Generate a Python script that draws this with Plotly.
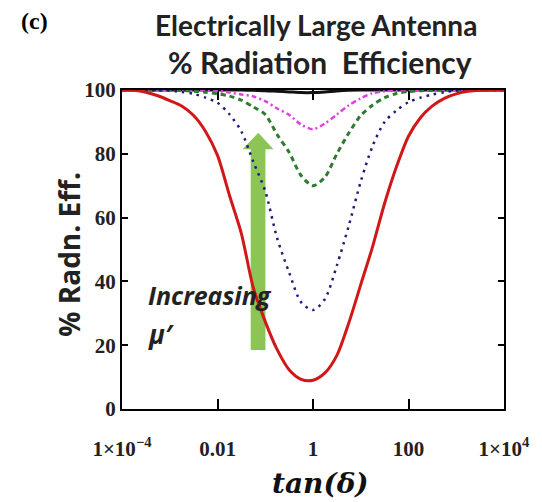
import plotly.graph_objects as go

# Sample positions along the loss-tangent axis, as powers of ten
log_tan_delta = [-4.0, -3.75, -3.5, -3.25, -3.0, -2.75, -2.5, -2.25, -2.0, -1.75, -1.5,
                 -1.25, -1.0, -0.75, -0.5, -0.25, 0.0, 0.25, 0.5, 0.75, 1.0, 1.25,
                 1.5, 1.75, 2.0, 2.25, 2.5, 2.75, 3.0, 3.25, 3.5, 3.75, 4.0]

# Radiation efficiency (%) for increasing mu'
eff_mu1 = [100, 99.9, 99.3, 98.2, 96.7, 95.0, 92.0, 87.0, 79.5, 67.0, 55.0,
           38.0, 27.4, 18.6, 12.3, 9.3, 9.0, 11.3, 16.8, 27.0, 39.0, 51.0,
           64.5, 76.0, 85.5, 91.3, 95.0, 97.4, 98.8, 99.6, 99.9, 100, 100]
eff_mu2 = [100, 100, 100, 99.9, 99.8, 99.4, 98.8, 97.6, 96.0, 92.4, 87.0,
           77.5, 68.3, 53.5, 42.8, 33.5, 31.0, 34.5, 45.0, 57.5, 71.3, 82.5,
           90.0, 93.6, 96.2, 97.6, 98.6, 99.3, 99.8, 100, 100, 100, 100]
eff_mu3 = [100, 100, 100, 100, 100, 99.9, 99.6, 99.3, 98.8, 98.1, 96.8,
           94.7, 92.3, 86.0, 80.5, 73.2, 70.0, 72.7, 80.0, 86.5, 92.0, 95.3,
           97.6, 98.9, 99.5, 99.8, 99.9, 100, 100, 100, 100, 100, 100]
eff_mu4 = [100, 100, 100, 100, 100, 100, 100, 99.9, 99.7, 99.2, 98.6,
           98.0, 96.5, 94.2, 92.2, 89.2, 87.7, 89.5, 92.3, 95.2, 97.4, 99.0,
           99.6, 99.9, 100, 100, 100, 100, 100, 100, 100, 100, 100]
eff_mu5 = [100, 100, 100, 100, 100, 100, 100, 100, 100, 100, 100,
           99.9, 99.8, 99.6, 99.4, 99.2, 99.2, 99.4, 99.7, 99.9, 100, 100,
           100, 100, 100, 100, 100, 100, 100, 100, 100, 100, 100]

# Axis ticks
x_tick_vals = [1e-4, 1e-2, 1, 1e2, 1e4]
x_tick_text = ["1×10<sup>−4</sup>", "0.01", "1", "100", "1×10<sup>4</sup>"]
y_tick_vals = [0, 20, 40, 60, 80, 100]

# Arrow outline (tan delta, % efficiency)
arrow_x = [0.0496, 0.1009, 0.1009, 0.149, 0.0714, 0.0335, 0.0496, 0.0496]
arrow_y = [18.5, 18.5, 81.4, 81.4, 86.6, 81.4, 81.4, 18.5]

tan_delta = [10 ** v for v in log_tan_delta]

series = [
    (eff_mu5, "#111111", "solid", 3),
    (eff_mu4, "#e040e0", "5px,3px,2px,3px", 2.5),
    (eff_mu3, "#2e7a32", "5px,4px", 3),
    (eff_mu2, "#1c1c7a", "2.5px,5px", 2.5),
    (eff_mu1, "#d01818", "solid", 3),
]

fig = go.Figure()

fig.add_trace(go.Scatter(
    x=arrow_x, y=arrow_y, mode="lines", fill="toself",
    fillcolor="#8cc456", line=dict(width=0, color="#8cc456"),
    hoverinfo="skip", showlegend=False,
))

for vals, color, dash, width in series:
    fig.add_trace(go.Scatter(
        x=tan_delta, y=vals, mode="lines",
        line=dict(color=color, dash=dash, width=width, shape="spline", smoothing=0.8),
        showlegend=False,
    ))

axis_common = dict(
    showline=True, linecolor="black", linewidth=2, mirror="ticks",
    ticks="inside", tickcolor="black", showgrid=False, zeroline=False,
    layer="below traces",
)
tick_font = dict(family="Liberation Serif", size=21, color="#222", weight="bold")

fig.update_xaxes(
    type="log", range=[-4, 4], tickvals=x_tick_vals, ticktext=x_tick_text,
    ticklen=10, tickwidth=2, ticklabelstandoff=20, tickfont=tick_font,
    **axis_common,
)
fig.update_yaxes(
    range=[0, 100], tickvals=y_tick_vals, ticklen=6, tickwidth=2,
    tickfont=tick_font, **axis_common,
)


def label(text, x, y, font, **kw):
    return dict(text=text, x=x, y=y, xref="paper", yref="paper",
                xanchor=kw.pop("xanchor", "center"), yanchor="middle",
                showarrow=False, font=font, **kw)


fig.update_layout(
    width=542, height=502,
    margin=dict(l=122, r=31, t=90, b=93),
    paper_bgcolor="white", plot_bgcolor="white",
    annotations=[
        label("(c)", -0.229, 1.216,
              dict(family="Liberation Serif", size=24, color="black", weight="bold")),
        label("Electrically Large Antenna", 0.508, 1.204,
              dict(family="Lato", size=28, color="#222", weight="bold")),
        label("% Radiation\u00a0\u00a0Efficiency", 0.518, 1.088,
              dict(family="Lato", size=30, color="#222", weight="bold")),
        label("% Radn. Eff.", -0.141, 0.484,
              dict(family="Open Sans", size=28, color="#222", weight="bold"), textangle=-90),
        label("tan(δ)", 0.519, -0.232,
              dict(family="DejaVu Serif", size=28, color="#111", weight="bold", style="italic")),
        label("Increasing", 0.064, 0.357,
              dict(family="Open Sans", size=25, color="#222", weight="bold", style="italic"),
              xanchor="left"),
        label("μ′", 0.064, 0.235,
              dict(family="Open Sans", size=26, color="#222", weight="bold", style="italic"),
              xanchor="left"),
    ],
)

fig.write_html("out.html")
